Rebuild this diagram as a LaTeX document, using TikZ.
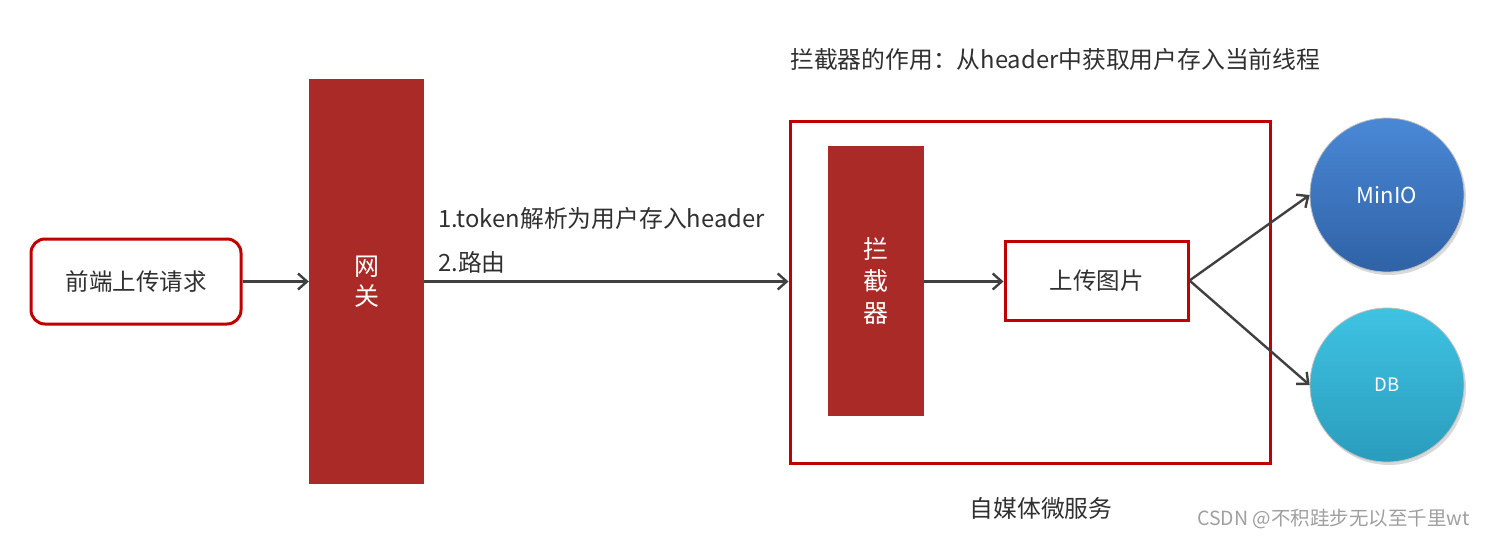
\documentclass[tikz,border=0pt]{standalone}
\usepackage{fontspec}
\setmainfont{Noto Sans CJK SC}
\usetikzlibrary{arrows.meta,shadows}
\definecolor{boxred}{HTML}{C00000}
\definecolor{barred}{HTML}{A92A26}
\definecolor{linegray}{HTML}{404040}
\definecolor{txtgray}{HTML}{303030}
\definecolor{miniotop}{HTML}{4A88D6}
\definecolor{miniobot}{HTML}{2F62A6}
\definecolor{dbtop}{HTML}{3FC3E3}
\definecolor{dbbot}{HTML}{2A9CBC}
\tikzset{
  redbox/.style={draw=boxred, line width=3pt, fill=white, text=txtgray, font=\fontsize{23.5}{28}\selectfont},
  bar/.style={fill=barred, draw=none, text=white, font=\fontsize{25}{30}\selectfont, align=center},
  conn/.style={draw=linegray, line width=2.4pt, -{Straight Barb[length=9pt,width=16pt,line width=2.4pt]}},
  lbl/.style={text=txtgray, font=\fontsize{23.8}{27}\selectfont, inner sep=0pt},
  ball/.style={circle, minimum size=154pt, inner sep=0pt, text=white, draw=black!25, line width=0.8pt, drop shadow={shadow xshift=2pt, shadow yshift=-3pt, opacity=0.3}},
}
\begin{document}
\begin{tikzpicture}[x=1pt,y=-1pt]
\useasboundingbox (0,0) rectangle (1485,538);
% front request
\node[redbox, rounded corners=14pt, minimum width=210pt, minimum height=85pt] (front) at (136,281.5) {前端上传请求};
% gateway
\node[bar, minimum width=115pt, minimum height=405pt] (gw) at (366.5,281.5) {网\\关};
% outer service box
\node[draw=boxred, line width=3pt, minimum width=480pt, minimum height=342pt, inner sep=0pt] (svc) at (1030,292) {};
% interceptor
\node[bar, font=\fontsize{25}{32}\selectfont, minimum width=96pt, minimum height=270pt] (icp) at (876,281) {拦\\截\\器};
% upload
\node[redbox, minimum width=183pt, minimum height=79pt] (up) at (1096.5,280.5) {上传图片};
% circles
\node[ball, top color=miniotop, bottom color=miniobot, font=\fontsize{22}{26}\selectfont] (minio) at (1387,195) {MinIO};
\node[ball, top color=dbtop, bottom color=dbbot, font=\fontsize{18.5}{22}\selectfont] (db) at (1387,385) {DB};
% texts
\node[lbl, anchor=west] (t1) at (438,218) {1.token解析为用户存入header};
\node[lbl, anchor=west] (t2) at (438,262) {2.路由};
\node[lbl, anchor=west] (title) at (790,59) {拦截器的作用：从header中获取用户存入当前线程};
\node[lbl] (svcl) at (1041,508) {自媒体微服务};
\node[text=gray!75, font=\fontsize{19.5}{22}\selectfont, anchor=east, inner sep=0pt] (wm) at (1470,519) {CSDN @不积跬步无以至千里wt};
% connectors
\draw[conn] (front.east) -- (gw.west);
\draw[conn] (gw.east |- front.east) -- (svc.west |- front.east);
\draw[conn] (icp.east |- front.east) -- (up.west |- front.east);
\draw[conn] (up.east) -- (minio.west);
\draw[conn] (up.east) -- (db.west);
\end{tikzpicture}
\end{document}
